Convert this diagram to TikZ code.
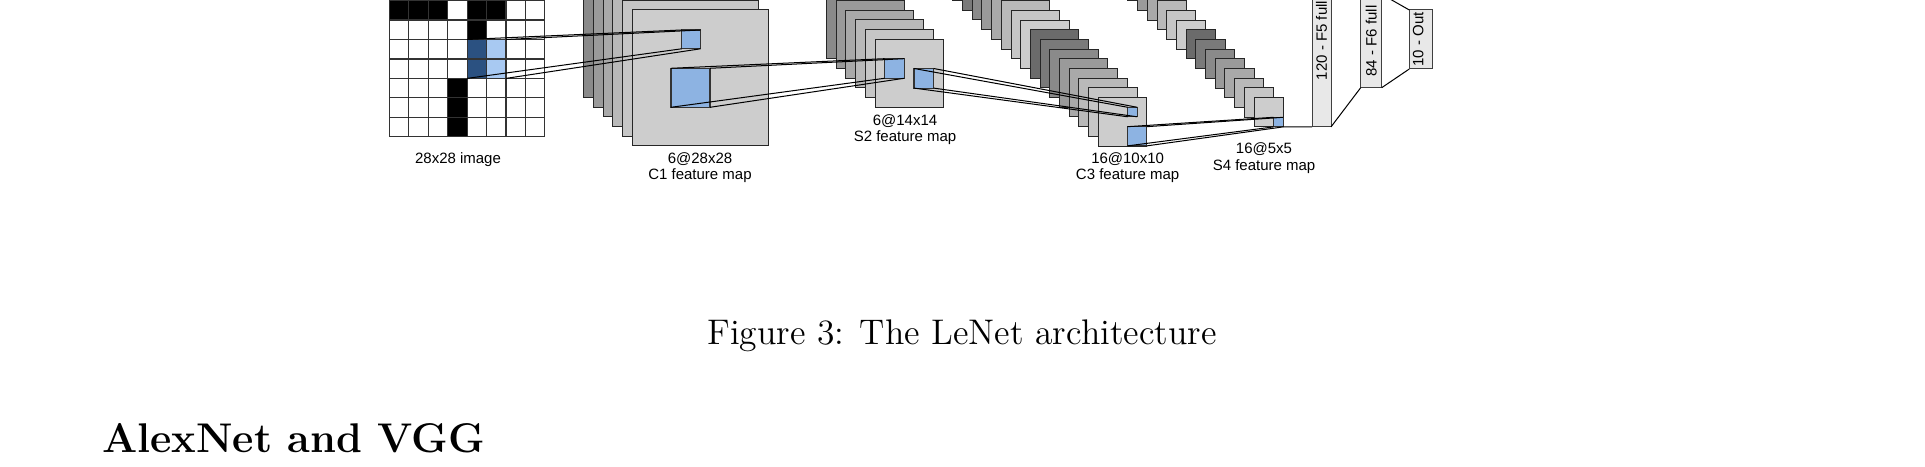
\documentclass[tikz,border=0pt]{standalone}
\usepackage{fontspec}
\newfontfamily\labelfont{Liberation Sans}
\definecolor{fblue}{HTML}{8DB3E2}
\definecolor{dblue}{HTML}{2B5181}
\definecolor{lblue}{HTML}{A8C9F2}
\definecolor{fcgray}{HTML}{E8E8E8}
\definecolor{g0}{HTML}{CDCDCD}
\definecolor{g1}{HTML}{C6C6C6}
\definecolor{g2}{HTML}{B9B9B9}
\definecolor{g3}{HTML}{A9A9A9}
\definecolor{g4}{HTML}{9A9A9A}
\definecolor{g5}{HTML}{8A8A8A}
\definecolor{g6}{HTML}{7A7A7A}
\definecolor{g7}{HTML}{6B6B6B}
\newcommand\drawstack[4]{%
  \foreach \i [evaluate=\i as \k using {int(mod(\i,8))}] in {#4,...,1} {%
    \filldraw[sheet, fill=g\k] ({#1-9.7*\i},{#2-9.7*\i}) rectangle +(#3,#3);
  }}
\begin{document}
\begin{tikzpicture}[x=0.347pt,y=-0.347pt,
  sheet/.style={draw=black!85, line width=0.35pt},
  sheetnode/.style={rectangle, draw=black!85, fill=g0, line width=0.35pt, inner sep=0pt, outer sep=0pt, anchor=north west, minimum width={#1*0.347pt}, minimum height={#1*0.347pt}},
  sq/.style={rectangle, draw=black!80, fill=fblue, line width=0.4pt, inner sep=0pt, outer sep=0pt, anchor=north west, minimum width={#1*0.347pt}, minimum height={#1*0.347pt}},
  gridline/.style={draw=black!80, line width=0.4pt},
  proj/.style={draw=black, line width=0.35pt},
  lab/.style={font=\labelfont\fontsize{5.2}{6}\selectfont, inner sep=0pt, anchor=base},
  fc/.style={rectangle, draw=black!75, fill=fcgray, line width=0.35pt, inner sep=0pt, outer sep=0pt, anchor=south west}
]
\useasboundingbox (0,0) rectangle (1925,467);
\clip (0,0) rectangle (1925,467);

% ---- input image grid ----
\def\gx{389.3}\def\gy{0.6}\def\cs{19.45}
\foreach \cc/\rr/\col in {0/0/black,1/0/black,2/0/black,4/0/black,5/0/black,4/1/black,
  3/4/black,3/5/black,3/6/black,4/2/dblue,4/3/dblue,5/2/lblue,5/3/lblue}
  \fill[\col] ({\gx+\cc*\cs},{\gy+\rr*\cs}) rectangle +(\cs,\cs);
\foreach \ii in {0,...,8}
  \draw[gridline] ({\gx+\ii*\cs},-30) -- ({\gx+\ii*\cs},{\gy+7*\cs});
\foreach \jj in {0,...,7}
  \draw[gridline] (\gx,{\gy+\jj*\cs}) -- ({\gx+8*\cs},{\gy+\jj*\cs});
\node[rectangle, inner sep=0pt, outer sep=0pt, anchor=north west,
  minimum width={2*19.45*0.347pt}, minimum height={2*19.45*0.347pt}] (rf) at (467.1,39.5) {};

% ---- C1 ----
\drawstack{632.3}{10}{136}{5}
\node[sheetnode=136] (c1f) at (632.3,10) {};
\node[sq=18.8] (c1s) at (681.7,30) {};
\node[sq=39] (c1b) at (671,68.3) {};

% ---- S2 ----
\drawstack{875}{39.3}{68}{5}
\node[sheetnode=68] (s2f) at (875,39.3) {};
\node[sq=19.6] (s2a) at (884.5,58.7) {};
\node[sq=19.6] (s2b) at (914,68.5) {};

% ---- C3 ----
\drawstack{1098.3}{97.7}{48.4}{15}
\node[sheetnode=48.4] (c3f) at (1098.3,97.7) {};
\node[sq=9.5] (c3s) at (1127.7,107.3) {};
\node[sq=19.2] (c3b) at (1127.5,126.7) {};

% ---- S4 ----
\drawstack{1254}{97.7}{29.2}{15}
\node[sheetnode=29.2] (s4f) at (1254,97.7) {};
\node[sq=9.6] (s4s) at (1273.6,117.3) {};

% ---- fully connected ----
\node[fc, minimum width={19*0.347pt}, minimum height={172.9*0.347pt}] (f5) at (1312,126.9) {};
\node[fc, minimum width={21*0.347pt}, minimum height={93.4*0.347pt}] (f6) at (1360.7,87.7) {};
\node[fc, minimum width={23*0.347pt}, minimum height={59*0.347pt}] (out) at (1409.3,69) {};
\node[lab, anchor=center, rotate=90] (t5) at (f5.center) {120 - F5 full};
\node[lab, anchor=center, rotate=90] (t6) at (f6.center) {84 - F6 full};
\node[lab, anchor=center, rotate=90] (to) at ([xshift=-0.9pt]out.center) {10 - Out};

% ---- projections ----
\foreach \a in {north west,north east,south west,south east}{
  \draw[proj] (rf.\a) -- (c1s.\a);
  \draw[proj] (c1b.\a) -- (s2a.\a);
  \draw[proj] (s2b.\a) -- (c3s.\a);
  \draw[proj] (c3b.\a) -- (s4s.\a);
}
\draw[proj] (s4f.south east) -- (f5.south west);
\draw[proj] (f5.south east) -- (f6.south west);
\draw[proj] (f6.south east) -- (out.south west);
\draw[proj] (out.north west) -- (f6.north east);

% ---- labels ----
\node[lab] (l0) at (458,164) {28x28 image};
\node[lab] (l1a) at (700,164) {6@28x28};
\node[lab] (l1b) at (700,179.3) {C1 feature map};
\node[lab] (l2a) at (905,126) {6@14x14};
\node[lab] (l2b) at (905,141.3) {S2 feature map};
\node[lab] (l3a) at (1127.6,164) {16@10x10};
\node[lab] (l3b) at (1127.6,179.6) {C3 feature map};
\node[lab] (l4a) at (1264,153.3) {16@5x5};
\node[lab] (l4b) at (1264,170.6) {S4 feature map};

% ---- caption and heading ----
\node[anchor=base, inner sep=0pt, font=\fontsize{12.35}{14}\selectfont] (cap) at (962,345) {Figure 3: The LeNet architecture};
\node[anchor=base west, inner sep=0pt, font=\fontsize{14.4}{17}\selectfont\bfseries] (sec) at (101.5,452.5) {AlexNet and VGG};
\end{tikzpicture}
\end{document}
